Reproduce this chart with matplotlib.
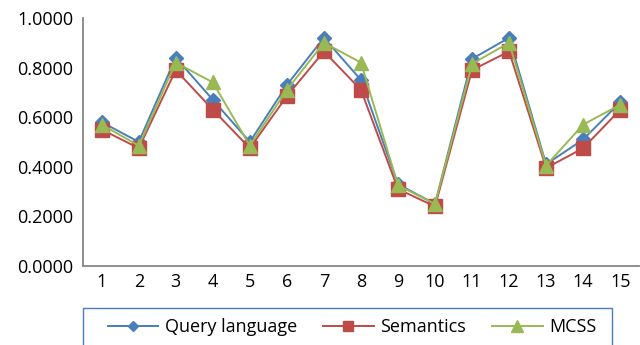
import matplotlib.pyplot as plt
from matplotlib.patches import Rectangle
from matplotlib.ticker import FormatStrFormatter

plt.rcParams['font.family'] = ['Open Sans', 'DejaVu Sans']

queries = list(range(1, 16))
query_language = [0.58, 0.50, 0.84, 0.67, 0.50, 0.73, 0.92, 0.75, 0.33, 0.25, 0.835, 0.92, 0.41, 0.51, 0.66]
semantics = [0.55, 0.475, 0.79, 0.63, 0.475, 0.685, 0.865, 0.71, 0.31, 0.24, 0.79, 0.865, 0.395, 0.475, 0.63]
mcss = [0.57, 0.485, 0.82, 0.74, 0.485, 0.71, 0.90, 0.82, 0.325, 0.25, 0.815, 0.90, 0.405, 0.57, 0.65]

fig = plt.figure(figsize=(6.4, 3.45), dpi=100)
ax = fig.add_axes([0.13, 0.229, 0.868, 0.719])

ax.plot(queries, query_language, color='#4A7EBB', marker='D', markersize=6.8,
        linewidth=1.4, label='Query language')
ax.plot(queries, semantics, color='#BE4B48', marker='s', markersize=9.5,
        linewidth=1.4, label='Semantics')
ax.plot(queries, mcss, color='#98B954', marker='^', markersize=10,
        linewidth=1.4, label='MCSS')

ax.set_xlim(0.5, 15.5)
ax.set_ylim(0, 1.0)
ax.set_xticks(queries)
ax.set_yticks([0, 0.2, 0.4, 0.6, 0.8, 1.0])
ax.yaxis.set_major_formatter(FormatStrFormatter('%.4f'))
ax.tick_params(axis='y', length=0, labelsize=13, pad=7)
ax.tick_params(axis='x', length=0, labelsize=13, pad=5)

for side in ('top', 'right'):
    ax.spines[side].set_visible(False)
for side in ('left', 'bottom'):
    ax.spines[side].set_color('#868686')
    ax.spines[side].set_linewidth(1.3)

# legend box sits under the axes and runs off the bottom edge
box = Rectangle((0.13, -0.2), 0.827, 0.307, transform=fig.transFigure,
                fill=False, edgecolor='#4A7EBB', linewidth=1.0)
fig.patches.append(box)

fig.legend(loc='center', bbox_to_anchor=(0.55, 0.052), ncol=3, fontsize=13,
           frameon=False, handlelength=2.8, handletextpad=0.35,
           columnspacing=1.45, markerscale=0.8)

fig.savefig('out.png', dpi=100)
